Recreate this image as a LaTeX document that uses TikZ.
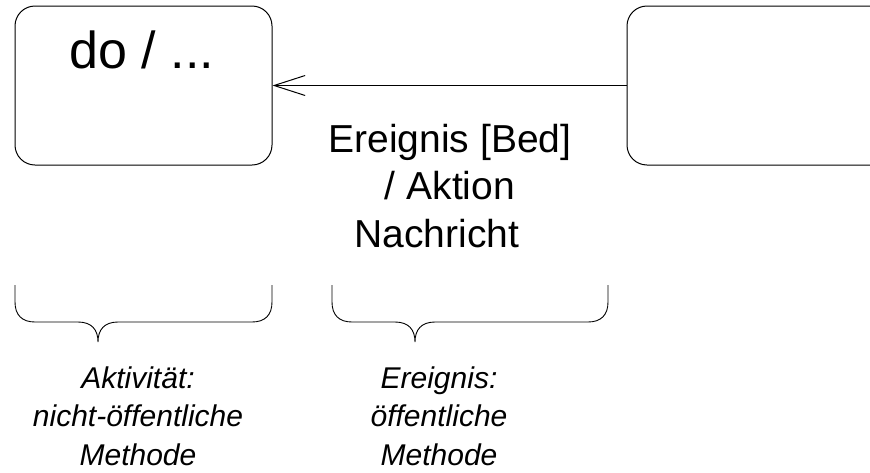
\documentclass[tikz,border=0pt]{standalone}
\usepackage{fontspec}
\setmainfont{Liberation Sans}
\usetikzlibrary{arrows.meta}
\tikzset{
  statebox/.style={draw, rounded corners=20pt, inner sep=0pt},
  bracepath/.style={draw, line width=0.9pt},
  bigtext/.style={font=\fontsize{52}{60}\selectfont, inner sep=0pt, anchor=base},
  evtext/.style={font=\fontsize{39}{47.5}\selectfont, align=center, inner sep=0pt, anchor=base},
  notetext/.style={font=\fontsize{30}{38.5}\selectfont\itshape, align=center, inner sep=0pt, anchor=base},
  msgarrow/.style={-{Straight Barb[length=31pt,width=20pt]}}
}
\begin{document}
\begin{tikzpicture}[x=1pt,y=-1pt,line width=1pt]
\clip (0,0) rectangle (870,472);
\fill[white] (0,0) rectangle (870,472);
\node[statebox, minimum width=257pt, minimum height=159pt] (l) at (143.5,85.5) {};
\node[bigtext] (ltxt) at (142,68) {do / ...};
\node[statebox, minimum width=263pt, minimum height=159pt] (r) at (758.5,85.5) {};
\draw[msgarrow] (r.west) -- (l.east);
\node[evtext] (ev) at (450,247) {Ereignis [Bed]\\ / Aktion\\Nachricht\hspace*{26pt}};
% braces
\coordinate (b1l) at (15,285);
\coordinate (b1r) at (272,285);
\coordinate (b1t) at (98,342);
\path[bracepath] (b1l) -- (15,302) .. controls (15,315) and (22,322) .. (35,322) -- (78,322)
  .. controls (92,322) and (98,330) .. (b1t) .. controls (98,330) and (104,322) .. (118,322)
  -- (252,322) .. controls (265,322) and (272,315) .. (272,302) -- (b1r);
\coordinate (b2l) at (332,285);
\coordinate (b2r) at (608,285);
\coordinate (b2t) at (415,342);
\path[bracepath] (b2l) -- (332,302) .. controls (332,315) and (339,322) .. (352,322) -- (395,322)
  .. controls (409,322) and (415,330) .. (b2t) .. controls (415,330) and (421,322) .. (435,322)
  -- (588,322) .. controls (601,322) and (608,315) .. (608,302) -- (b2r);
\node[notetext] (n1) at (138,465) {Aktivität:\\nicht-öffentliche\\Methode};
\node[notetext] (n2) at (439,465) {Ereignis:\\öffentliche\\Methode};
\end{tikzpicture}
\end{document}
